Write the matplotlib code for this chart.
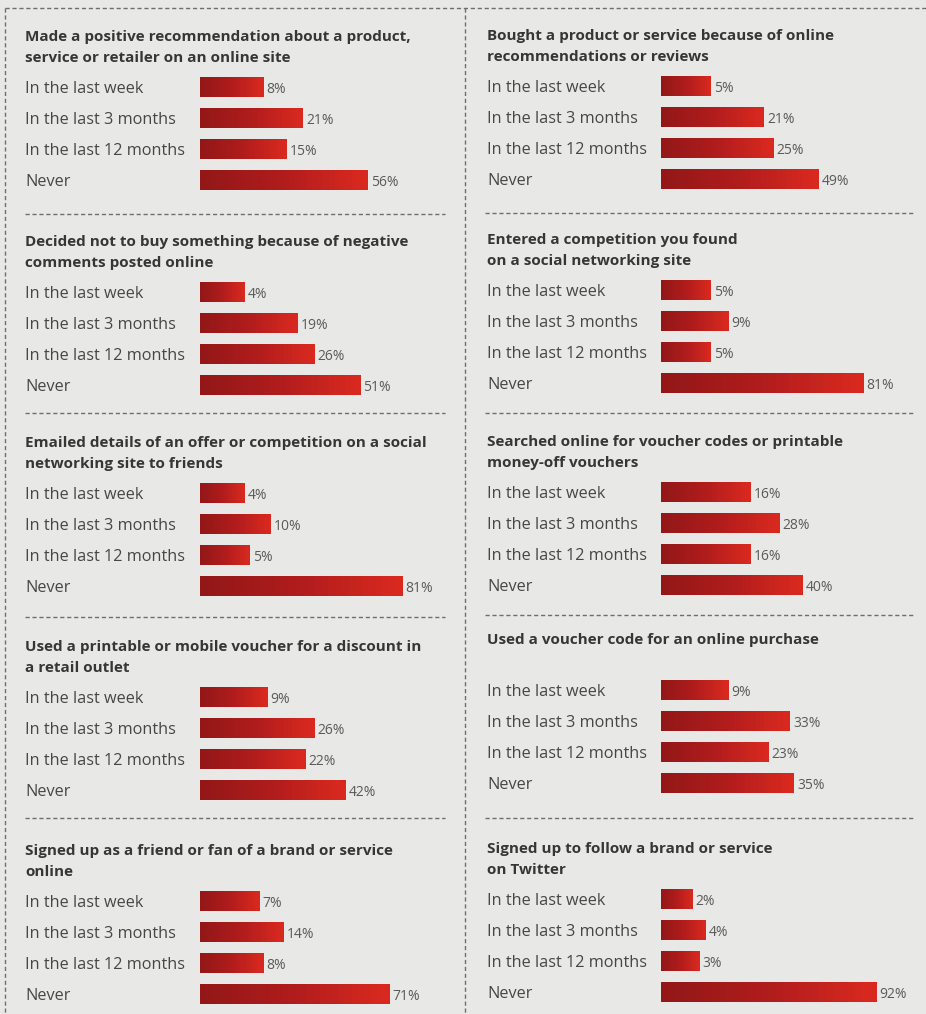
import numpy as np
import matplotlib.pyplot as plt
from matplotlib.colors import LinearSegmentedColormap
from matplotlib.lines import Line2D

# === Data ===
periods = ["In the last week", "In the last 3 months", "In the last 12 months", "Never"]

titles_left = [
    "Made a positive recommendation about a product,\nservice or retailer on an online site",
    "Decided not to buy something because of negative\ncomments posted online",
    "Emailed details of an offer or competition on a social\nnetworking site to friends",
    "Used a printable or mobile voucher for a discount in\na retail outlet",
    "Signed up as a friend or fan of a brand or service\nonline",
]
titles_right = [
    "Bought a product or service because of online\nrecommendations or reviews",
    "Entered a competition you found\non a social networking site",
    "Searched online for voucher codes or printable\nmoney-off vouchers",
    "Used a voucher code for an online purchase",
    "Signed up to follow a brand or service\non Twitter",
]

positive_recommendation = [8, 21, 15, 56]
decided_not_to_buy = [4, 19, 26, 51]
emailed_offer = [4, 10, 5, 81]
printable_voucher = [9, 26, 22, 42]
fan_of_brand = [7, 14, 8, 71]

bought_from_reviews = [5, 21, 25, 49]
entered_competition = [5, 9, 5, 81]
searched_vouchers = [16, 28, 16, 40]
voucher_code_online = [9, 33, 23, 35]
twitter_follow = [2, 4, 3, 92]

values_left = [positive_recommendation, decided_not_to_buy, emailed_offer, printable_voucher, fan_of_brand]
values_right = [bought_from_reviews, entered_competition, searched_vouchers, voucher_code_online, twitter_follow]

# === Layout (pixels) ===
W, H = 926, 1014
BG = "#e8e8e6"
TITLE_C = "#363636"
LABEL_C = "#464646"
PCT_C = "#5a5a5a"
FONT = "Open Sans"
TITLE_FS = 11
LABEL_FS = 11.7
PCT_FS = 10
px_per_sqrt = 22.5
axes_w = 262
row_step = 31

bar_cmap = LinearSegmentedColormap.from_list("bar", ["#931717", "#b01c1c", "#d9291f"])

fig = plt.figure(figsize=(W / 100, H / 100), dpi=100, facecolor=BG)


def fx(x):
    return x / W


def fy(y):
    return 1 - y / H


def panel(title, vals, text_x, bar_x, first_y):
    top = first_y - row_step / 2
    ax = fig.add_axes([fx(bar_x), fy(top + 4 * row_step), fx(axes_w), 4 * row_step / H])
    ax.set_facecolor("none")
    ax.set_xscale("function", functions=(lambda x: np.sqrt(np.clip(x, 0, None)), np.square))
    ax.set_xlim(0, (axes_w / px_per_sqrt) ** 2)
    ax.set_ylim(3.5, -0.5)
    for i, v in enumerate(vals):
        ax.barh(i, v, height=0.65, color="#b01c1c", linewidth=0)
        n = 30
        edges = np.linspace(0, np.sqrt(v), n + 1) ** 2
        for k in range(n):
            ax.barh(i, edges[k + 1] - edges[k], left=edges[k], height=0.65,
                    color=bar_cmap(k / (n - 1)), linewidth=0, antialiased=False)
        ax.annotate(f"{v}%", (v, i), xytext=(2, -1.5), textcoords="offset points",
                    va="center", ha="left", fontsize=PCT_FS, color=PCT_C, family=FONT)
    ax.set_yticks(range(4), periods)
    ax.tick_params(axis="y", length=0, pad=(bar_x - text_x) * 0.72)
    for t in ax.get_yticklabels():
        t.set_ha("left")
        t.set_fontsize(LABEL_FS)
        t.set_color(LABEL_C)
        t.set_family(FONT)
        t.set_fontweight("medium")
    ax.set_xticks([])
    for s in ax.spines.values():
        s.set_visible(False)
    fig.text(fx(text_x), fy(first_y - 57), title, ha="left", va="top", fontsize=TITLE_FS,
             fontweight="bold", color=TITLE_C, family=FONT, linespacing=1.65)


left_rows = [87, 292, 493, 697, 901]
right_rows = [86, 290, 492, 690, 899]

for title, vals, y in zip(titles_left, values_left, left_rows):
    panel(title, vals, 25, 200, y)
for title, vals, y in zip(titles_right, values_right, right_rows):
    panel(title, vals, 487, 661, y)

# dashed frame and separators
dash = dict(color="#6e6e6e", linewidth=1.0, linestyle=(0, (3, 2)), transform=fig.transFigure)
fig.add_artist(Line2D([fx(5), fx(926)], [fy(8), fy(8)], **dash))
fig.add_artist(Line2D([fx(5), fx(5)], [fy(8), fy(1014)], **dash))
fig.add_artist(Line2D([fx(465), fx(465)], [fy(8), fy(1014)], **dash))
for y in [214, 413, 617, 818]:
    fig.add_artist(Line2D([fx(25), fx(445)], [fy(y), fy(y)], **dash))
for y in [213, 413, 615, 818]:
    fig.add_artist(Line2D([fx(485), fx(915)], [fy(y), fy(y)], **dash))

fig.savefig("out.png", dpi=100, facecolor=BG)
